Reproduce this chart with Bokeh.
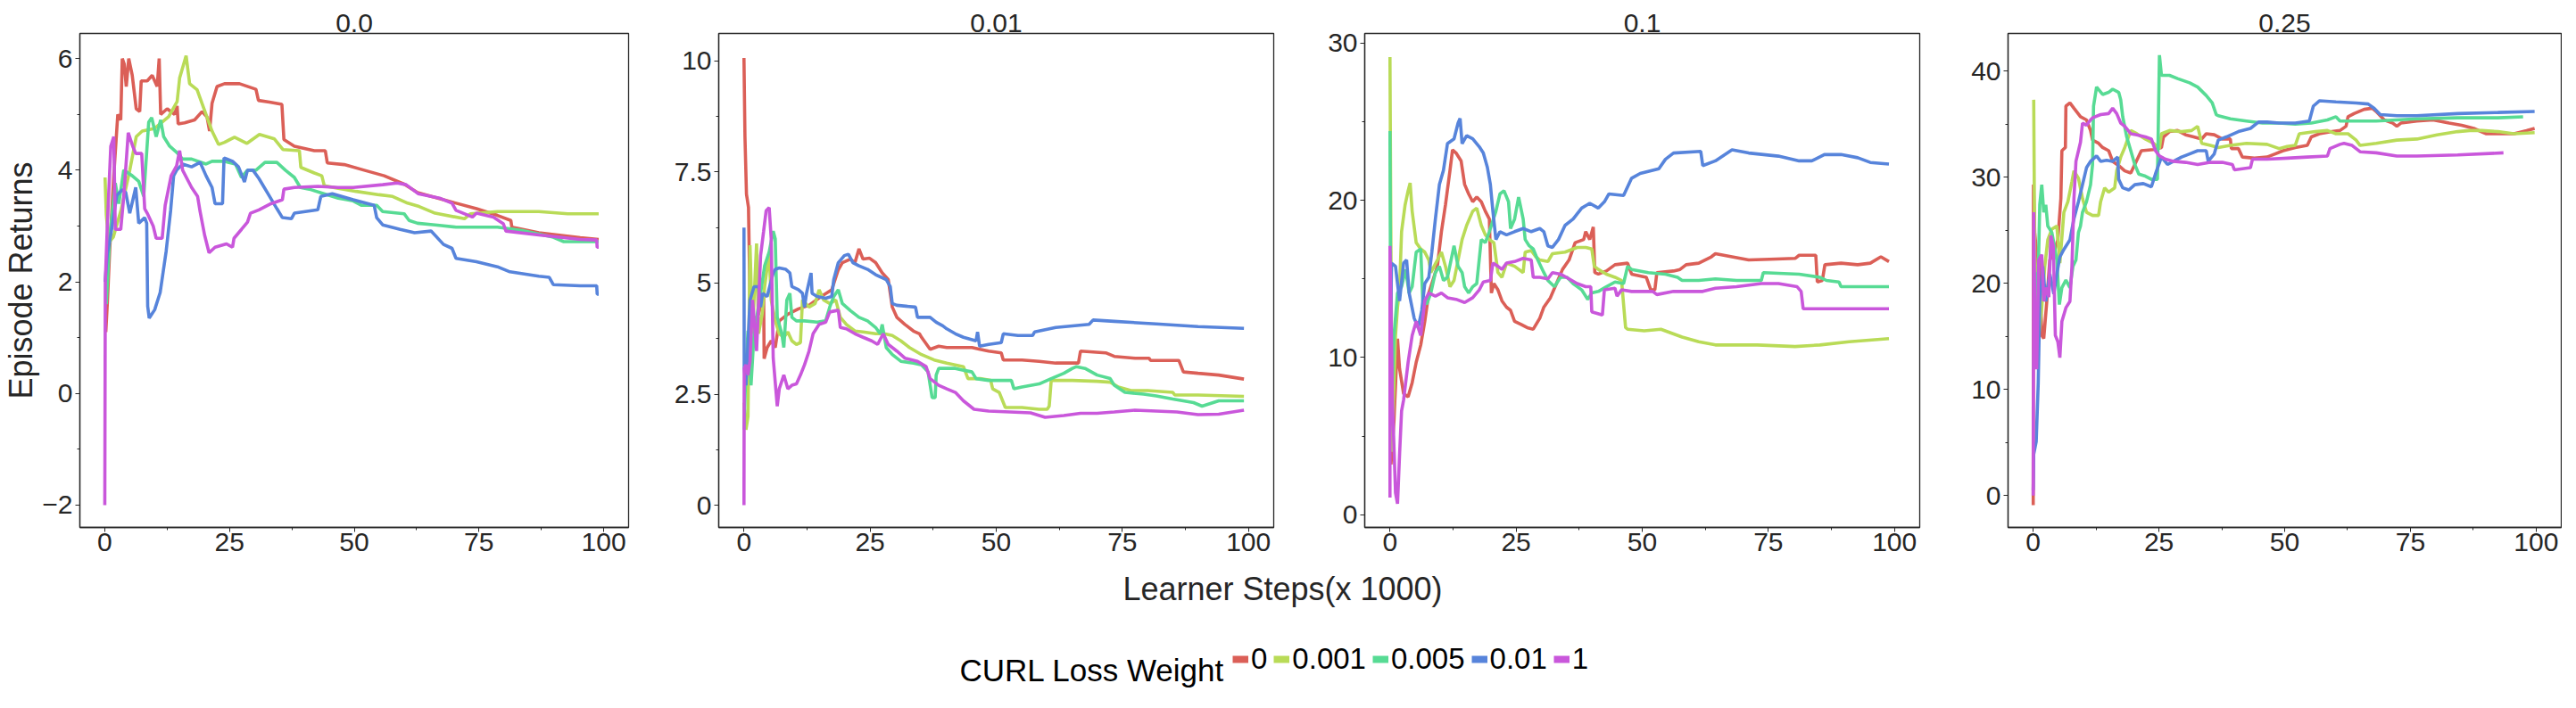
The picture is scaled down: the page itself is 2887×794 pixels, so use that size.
from bokeh.plotting import figure
from bokeh.layouts import row, column
from bokeh.models import Range1d, FixedTicker, Legend, LegendItem, Label
from bokeh.embed import file_html
from bokeh.resources import INLINE

# ---------------- data ----------------
PANEL_TITLES = ["0.0", "0.01", "0.1", "0.25"]
WEIGHT_LABELS = ["0", "0.001", "0.005", "0.01", "1"]
LEGEND_TITLE = "CURL Loss Weight"
X_LABEL = "Learner Steps(x 1000)"
Y_LABEL = "Episode Returns"

X_TICKS = [0, 25, 50, 75, 100]
X_MINOR = [12.5, 37.5, 62.5, 87.5]
Y_TICKS = [[-2, 0, 2, 4, 6], [0, 2.5, 5, 7.5, 10], [0, 10, 20, 30], [0, 10, 20, 30, 40]]
Y_TICK_LABELS = [["\u22122", "0", "2", "4", "6"], ["0", "2.5", "5", "7.5", "10"],
                 ["0", "10", "20", "30"], ["0", "10", "20", "30", "40"]]
Y_MINOR = [[-1, 1, 3, 5], [1.25, 3.75, 6.25, 8.75], [5, 15, 25], [5, 15, 25, 35]]
X_RANGE = (-5, 105)
Y_RANGES = [(-2.4, 6.45), (-0.5, 10.62), (-0.8, 30.6), (-3.0, 43.55)]

# panel "0.0"
P0_W0 = [(0.2,1.1),(0.5,1.6),(1.0,2.6),(1.8,3.9),(2.6,5.0),(3.2,4.9),(3.5,6.0),(3.9,5.9),(4.3,5.5),(4.8,6.0),(5.5,5.7),(6.3,5.1),(7.0,5.05),(7.3,5.6),(8.5,5.6),(9.5,5.7),(10.5,5.5),(10.9,6.0),(11.2,5.0),(12.5,5.1),(14.0,5.0),(14.5,5.15),(14.7,4.83),(16,4.85),(18,4.9),(19.5,5.05),(20.5,4.95),(21.0,4.7),(21.5,5.2),(22.5,5.5),(24,5.55),(27,5.55),(30.3,5.45),(30.8,5.25),(33,5.22),(35.5,5.18),(35.9,4.55),(38,4.43),(42,4.35),(44.2,4.35),(44.6,4.13),(48,4.1),(52,4.0),(56,3.9),(60,3.75),(62.7,3.6),(67.9,3.47),(74.5,3.31),(78.7,3.19),(81.4,3.1),(81.6,2.98),(87,2.88),(95.3,2.79),(99,2.76)]
P0_W001 = [(0.05,3.87),(0.3,3.2),(0.8,2.7),(1.7,2.8),(3.3,3.3),(5.0,4.0),(6.3,4.6),(7.5,4.7),(10,4.75),(12.8,4.96),(14.5,5.23),(15,5.65),(16.3,6.05),(17,5.55),(18.5,5.44),(20,5.07),(21.5,4.7),(22.8,4.46),(24,4.5),(26,4.59),(28.5,4.48),(31,4.64),(34,4.56),(35.7,4.37),(39,4.35),(39.3,4.05),(42,3.95),(43.5,3.9),(44,3.72),(50.4,3.62),(55,3.56),(57.7,3.53),(60.7,3.41),(63,3.35),(66.2,3.23),(72.1,3.13),(73.3,3.22),(78.7,3.26),(87,3.26),(92.8,3.22),(99,3.22)]
P0_W005 = [(0.3,1.6),(1.0,2.8),(2.1,3.77),(2.8,3.4),(3.8,4.0),(5.5,3.9),(6.8,3.8),(7.8,3.53),(8.8,4.86),(9.4,4.94),(10.3,4.6),(11.2,4.9),(11.8,4.6),(13,4.43),(14.4,4.32),(15.6,4.2),(17.4,4.2),(20.3,4.11),(21.5,4.16),(23.9,4.16),(26.2,4.11),(27.4,3.87),(28.6,4.0),(30.3,4.0),(32.1,4.14),(34.5,4.14),(36.2,4.0),(38,3.87),(39.2,3.69),(41,3.66),(43.9,3.58),(46.8,3.5),(49.8,3.45),(51.5,3.37),(54.5,3.37),(55.7,3.26),(60,3.22),(61,3.1),(62.7,3.05),(66.2,3.02),(70.4,2.98),(78.7,2.98),(83.7,2.92),(89.9,2.8),(92,2.72),(99,2.72)]
P0_W01 = [(0.05,2.0),(0.5,2.5),(1.3,2.9),(2.4,3.55),(3.5,3.65),(4.2,3.6),(5.0,3.23),(6.2,3.69),(6.8,3.05),(8.0,3.15),(8.4,3.05),(8.6,1.56),(8.9,1.35),(10.0,1.5),(11.1,1.81),(12.3,2.55),(13.2,3.28),(13.8,3.9),(14.4,4.0),(15.6,4.11),(17.4,4.06),(19.1,4.14),(20.3,3.9),(21.5,3.69),(22.1,3.4),(23.6,3.4),(23.9,4.22),(25.6,4.16),(26.8,4.06),(28,3.79),(28.6,4.0),(29.7,4.0),(30.9,3.85),(32.7,3.58),(34.5,3.31),(35.6,3.15),(37.4,3.13),(38,3.23),(42.7,3.29),(43.3,3.53),(45.6,3.58),(49.8,3.47),(54,3.37),(54.5,3.15),(55.7,3.02),(59.2,2.94),(62.1,2.88),(65.4,2.91),(67.9,2.67),(69.6,2.6),(70.4,2.42),(74.5,2.36),(78.7,2.27),(81.2,2.18),(87,2.1),(89.1,2.08),(89.9,1.95),(95.3,1.93),(98.6,1.93),(98.7,1.78),(99,1.78)]
P0_W1 = [(0.0,-2.0),(0.1,2.0),(0.5,3.0),(1.2,4.43),(1.8,4.6),(2.1,2.94),(3.2,2.94),(3.8,3.53),(4.7,4.67),(5.6,4.43),(6.2,4.3),(7.4,4.3),(8.0,3.31),(8.5,3.23),(9.7,3.0),(10.3,2.78),(11.5,2.78),(12.1,3.37),(13.3,3.9),(14.4,4.08),(15,4.35),(15.6,4.0),(17.4,3.69),(18.6,3.53),(19.1,3.26),(20,2.84),(20.9,2.52),(22.1,2.62),(24.4,2.68),(25.6,2.62),(25.9,2.78),(27.4,2.94),(28.6,3.07),(29.2,3.23),(30.9,3.29),(33.3,3.4),(35.6,3.47),(35.9,3.66),(38,3.69),(42.7,3.71),(46.8,3.69),(49.8,3.69),(55.7,3.74),(58.6,3.77),(60.4,3.74),(62.8,3.58),(67.1,3.5),(69.6,3.41),(70.4,3.28),(73.7,3.16),(74.5,3.23),(77.9,3.16),(79.9,3.04),(80.4,2.91),(87,2.84),(95.3,2.76),(98.6,2.75),(98.7,2.62),(99,2.62)]

# panel "0.01"
P1_W0 = [(0.0,10.07),(0.2,8.3),(0.5,7.0),(0.9,6.7),(1.3,3.85),(2.0,4.15),(2.9,4.3),(3.9,4.77),(4.0,3.3),(4.6,3.55),(5.4,3.7),(6.2,3.55),(7.0,4.15),(8.7,4.3),(10.8,4.42),(12.9,4.5),(15.3,4.7),(17.4,4.85),(18.7,5.3),(19.5,5.46),(21.1,5.54),(22.0,5.46),(22.8,5.77),(23.6,5.54),(24.9,5.56),(26.1,5.46),(27.4,5.23),(28.6,5.08),(29.4,4.46),(30.3,4.23),(31.9,4.07),(33.6,3.92),(34.8,3.86),(35.2,3.78),(36.9,3.51),(38.6,3.58),(40.2,3.55),(45.2,3.55),(46.8,3.51),(48.5,3.47),(51.0,3.43),(51.4,3.27),(55.1,3.27),(58.5,3.24),(61.8,3.2),(66.3,3.2),(66.7,3.47),(71.7,3.43),(73.4,3.35),(77.5,3.31),(80.3,3.31),(80.6,3.26),(86.2,3.26),(87.1,3.0),(90,2.97),(94.1,2.93),(99.1,2.84)]
P1_W001 = [(0.0,2.31),(0.4,1.7),(0.8,2.0),(1.2,5.85),(1.7,3.86),(2.5,5.89),(2.9,3.86),(3.6,4.3),(4.1,4.92),(5.0,5.7),(5.4,4.62),(6.2,4.15),(7.0,3.86),(7.9,3.78),(8.7,3.9),(9.5,3.7),(10.4,3.62),(11.2,3.66),(11.6,4.62),(12.9,4.46),(14.1,4.54),(14.9,4.85),(15.8,4.62),(17.0,4.54),(18.2,4.62),(19.1,4.23),(20.3,4.07),(22.0,3.92),(23.6,3.9),(26.1,3.86),(27.8,3.86),(29.4,3.82),(31.1,3.7),(32.8,3.55),(35.2,3.39),(37.7,3.27),(40.2,3.2),(43.5,3.12),(44.4,2.85),(46.8,2.85),(48.9,2.81),(49.3,2.62),(50.6,2.54),(51.8,2.2),(55.1,2.2),(58.5,2.16),(60.1,2.16),(60.5,2.23),(60.9,2.81),(65.1,2.81),(70.0,2.79),(72.6,2.77),(74.2,2.66),(76.7,2.58),(80.0,2.58),(85.0,2.54),(85.4,2.48),(90.0,2.48),(99.1,2.45)]
P1_W005 = [(0.0,1.7),(0.4,3.08),(0.8,3.93),(1.4,2.7),(2.0,3.86),(3.3,4.77),(4.1,5.39),(5.0,5.7),(5.8,6.17),(6.2,6.0),(6.6,4.23),(7.5,3.86),(7.9,3.55),(8.5,4.62),(9.1,4.77),(9.5,4.23),(10.4,4.15),(12.0,4.15),(14.5,4.12),(16.2,4.15),(17.0,4.46),(17.8,4.7),(18.7,4.85),(19.5,4.54),(21.1,4.38),(22.8,4.23),(24.5,4.15),(26.1,4.0),(27.0,3.86),(27.4,4.07),(28.2,3.55),(29.4,3.39),(31.1,3.24),(33.6,3.2),(35.2,3.16),(36.5,3.0),(37.3,2.42),(37.9,2.42),(38.1,2.93),(38.6,3.08),(41.9,3.08),(43.5,3.04),(45.2,3.0),(46.0,2.85),(48.5,2.81),(53.0,2.81),(53.5,2.62),(55.1,2.66),(58.5,2.73),(60.9,2.85),(63.4,2.97),(65.1,3.08),(65.9,3.12),(67.6,3.08),(70.0,2.93),(72.6,2.85),(73.4,2.7),(75.5,2.54),(79.2,2.5),(81.7,2.46),(85.0,2.39),(89.1,2.31),(90.8,2.23),(94.1,2.35),(99.1,2.35)]
P1_W01 = [(0.0,6.25),(0.05,3.08),(0.4,2.7),(1.2,4.62),(2.0,4.92),(2.9,4.92),(3.3,4.46),(3.7,4.77),(4.6,4.7),(5.8,5.23),(6.2,5.31),(7.0,5.34),(8.3,5.31),(9.1,5.23),(9.5,4.92),(10.8,4.85),(11.6,4.77),(12.0,4.46),(12.4,4.77),(13.3,5.23),(13.5,4.77),(14.5,4.7),(16.2,4.66),(17.4,4.7),(17.8,5.08),(18.7,5.46),(19.9,5.62),(20.7,5.65),(21.6,5.46),(22.8,5.39),(24.5,5.31),(26.1,5.19),(28.2,5.08),(29.0,4.92),(29.4,4.54),(30.3,4.5),(34.0,4.46),(34.4,4.23),(36.9,4.23),(38.1,4.12),(39.4,4.04),(40.2,3.97),(41.9,3.86),(43.5,3.78),(46.0,3.7),(46.3,3.9),(46.7,3.58),(48.5,3.62),(51.0,3.66),(51.4,3.86),(54.3,3.82),(57.2,3.82),(57.6,3.9),(61.8,4.0),(68.4,4.07),(69.2,4.17),(73.4,4.14),(81.7,4.08),(90.0,4.02),(99.1,3.98)]
P1_W1 = [(0.0,0.0),(0.05,3.08),(0.4,3.16),(0.8,2.93),(1.2,3.24),(1.7,4.62),(2.5,3.47),(3.3,5.62),(3.9,6.17),(4.4,6.63),(5.0,6.7),(5.4,6.0),(5.8,3.31),(6.6,2.23),(7.0,2.62),(7.9,2.93),(8.7,2.62),(9.5,2.7),(10.4,2.73),(11.2,2.93),(12.0,3.16),(12.9,3.47),(13.7,3.86),(14.9,4.07),(16.2,4.12),(17.0,4.35),(18.7,4.39),(19.1,4.0),(20.3,3.97),(22.0,3.86),(23.6,3.78),(25.3,3.7),(26.5,3.62),(27.6,3.86),(28.6,3.62),(30.3,3.47),(31.9,3.31),(34.4,3.24),(36.1,3.12),(36.9,2.85),(38.6,2.7),(40.2,2.62),(41.9,2.54),(43.5,2.35),(45.6,2.16),(48.5,2.12),(52.7,2.1),(56.8,2.08),(59.7,1.98),(63.4,2.02),(66.7,2.07),(70.0,2.07),(73.4,2.1),(77.5,2.14),(81.7,2.12),(85.8,2.1),(90.0,2.04),(94.1,2.05),(99.1,2.14)]

# panel "0.1"
P2_W0 = [(0.2,3.2),(0.8,6.0),(1.5,11.2),(1.9,9.3),(2.7,7.7),(3.6,7.5),(4.4,8.4),(5.2,9.7),(6.1,10.8),(6.9,12.3),(7.7,14.1),(8.5,14.9),(9.4,15.8),(10.2,18.0),(11.0,19.7),(11.9,21.9),(12.4,23.2),(13.1,23.0),(14.1,22.5),(14.8,21.0),(15.6,20.4),(16.4,19.9),(17.2,20.2),(18.1,19.9),(18.9,19.3),(19.7,18.8),(20.1,14.1),(20.6,14.7),(21.4,14.3),(22.2,13.6),(23.1,13.2),(23.9,13.0),(24.7,12.3),(26.0,12.1),(27.2,11.9),(28.4,11.8),(29.7,12.5),(30.5,13.2),(31.8,13.8),(33.0,14.7),(34.2,15.6),(35.5,16.2),(36.7,17.3),(38.4,17.5),(38.8,18.0),(39.6,17.5),(40.3,18.3),(40.6,15.4),(41.3,15.3),(42.9,15.5),(44.6,15.9),(47.1,16.0),(47.9,15.3),(50.8,15.1),(51.7,14.3),(52.5,14.3),(52.9,15.4),(56.2,15.5),(57.5,15.6),(58.7,15.9),(61.2,16.0),(63.7,16.4),(64.5,16.6),(67.8,16.4),(71.1,16.2),(75.3,16.25),(80.3,16.3),(81.1,16.5),(84.4,16.5),(84.7,14.8),(85.7,14.9),(86.2,15.9),(89.4,16.0),(92.7,15.9),(95.2,16.0),(97.3,16.4),(98.9,16.1)]
P2_W001 = [(0.0,29.1),(0.4,4.0),(1.1,11.4),(1.5,13.2),(1.9,14.3),(2.3,18.0),(3.0,19.7),(3.6,20.6),(4.0,21.1),(4.4,19.3),(5.2,17.3),(6.1,16.9),(6.9,16.7),(7.7,16.2),(8.1,15.4),(9.4,16.2),(10.2,16.7),(11.0,15.8),(11.9,14.5),(12.7,14.9),(13.5,16.2),(14.3,17.5),(15.2,18.4),(16.4,19.3),(17.2,19.5),(18.1,18.4),(18.9,17.8),(19.7,17.5),(20.6,17.3),(21.4,15.4),(22.2,15.1),(23.1,16.0),(24.7,15.8),(26.4,15.4),(26.8,16.7),(28.0,16.8),(28.9,16.4),(29.7,16.2),(31.3,16.1),(32.2,16.6),(34.7,16.7),(37.1,17.0),(38.8,17.0),(40.0,16.9),(40.5,15.8),(41.3,15.6),(42.9,15.3),(44.6,15.1),(45.9,14.9),(46.7,11.9),(47.1,11.8),(50.4,11.7),(53.7,11.8),(57.9,11.3),(61.2,11.0),(64.5,10.8),(72.8,10.8),(80.3,10.7),(85.2,10.8),(91.0,11.0),(98.9,11.2)]
P2_W005 = [(0.0,24.4),(0.2,5.8),(0.8,11.4),(1.5,14.1),(2.3,14.5),(3.1,15.6),(3.8,14.1),(4.4,14.5),(5.2,16.7),(6.1,16.9),(6.5,13.6),(7.3,13.4),(8.1,14.1),(9.0,15.4),(9.8,15.8),(10.6,14.9),(11.4,15.1),(12.7,17.1),(13.5,15.8),(14.3,15.4),(14.8,14.5),(15.6,14.1),(16.4,14.5),(17.2,14.7),(18.1,17.5),(18.9,17.3),(19.7,18.0),(21.0,19.3),(21.8,20.4),(22.6,20.6),(23.5,19.9),(23.9,18.2),(24.7,18.8),(25.5,20.2),(26.4,18.8),(26.8,17.5),(27.6,17.1),(28.4,16.9),(29.3,16.2),(30.5,15.4),(31.3,14.9),(32.6,14.5),(33.8,15.1),(35.1,15.1),(36.3,14.7),(38.0,14.3),(39.2,13.7),(40.0,14.1),(41.3,14.2),(42.9,14.5),(44.6,14.8),(46.3,14.7),(47.1,15.8),(47.9,15.6),(51.2,15.4),(54.6,15.3),(57.0,15.1),(57.9,14.9),(61.2,14.9),(64.5,15.0),(68.7,14.9),(73.6,14.9),(74.0,15.4),(81.1,15.3),(85.2,15.1),(86.5,14.9),(89.0,14.8),(89.4,14.5),(93.5,14.5),(98.9,14.5)]
P2_W01 = [(0.0,7.1),(0.3,16.0),(1.1,15.8),(1.9,13.6),(2.7,16.0),(3.3,16.2),(3.8,14.1),(4.8,12.5),(5.6,11.9),(6.3,13.0),(6.9,14.7),(7.7,15.1),(8.3,16.7),(9.0,18.8),(9.8,21.0),(10.6,21.9),(11.4,23.6),(12.7,23.9),(13.5,24.9),(13.9,25.2),(14.3,23.6),(15.2,24.1),(16.4,23.9),(17.7,23.4),(18.5,23.0),(19.3,22.1),(19.9,21.0),(20.4,19.3),(21.0,17.5),(21.8,18.0),(23.1,17.8),(24.7,18.0),(26.4,18.2),(28.0,18.0),(29.7,18.2),(30.5,18.0),(31.3,17.1),(32.2,17.0),(33.4,17.5),(34.7,18.4),(36.3,18.8),(38.0,19.5),(39.6,19.8),(41.3,19.5),(42.5,19.9),(43.4,20.4),(46.3,20.3),(47.9,21.4),(49.6,21.7),(53.3,22.0),(54.6,22.6),(56.2,23.0),(61.6,23.1),(62.0,22.2),(64.5,22.5),(67.8,23.2),(71.1,23.0),(77.0,22.8),(81.1,22.5),(83.6,22.5),(86.1,22.9),(89.4,22.9),(92.7,22.7),(95.2,22.4),(98.9,22.3)]
P2_W1 = [(0.0,1.1),(0.0,17.1),(0.5,7.1),(1.1,1.4),(1.5,0.7),(1.9,3.8),(2.3,6.6),(2.7,7.3),(3.6,9.7),(4.4,11.4),(5.2,12.3),(6.1,11.4),(6.9,13.6),(7.7,14.1),(9.0,13.9),(10.2,14.1),(11.4,13.8),(13.1,13.7),(14.8,13.5),(16.4,13.8),(17.7,14.3),(18.5,14.8),(19.9,14.9),(20.4,16.0),(21.4,15.8),(22.2,15.6),(23.1,16.0),(24.7,16.1),(26.4,16.3),(28.0,16.2),(28.4,15.1),(29.7,15.1),(31.3,15.0),(32.2,15.4),(33.8,15.3),(35.5,15.0),(37.1,14.7),(38.8,14.5),(39.8,14.5),(40.0,12.9),(42.1,12.7),(42.5,14.3),(44.6,14.4),(45.0,13.9),(45.9,14.3),(47.9,14.2),(52.1,14.2),(52.9,14.0),(56.2,14.2),(62.0,14.2),(64.5,14.4),(68.7,14.5),(73.6,14.7),(77.0,14.7),(80.7,14.5),(81.5,14.2),(81.9,13.1),(89.4,13.1),(98.9,13.1)]

# panel "0.25"
P3_W0 = [(0.0,-0.9),(0.05,29.3),(0.3,24.8),(0.6,23.2),(0.9,18.3),(1.3,22.2),(1.7,15.1),(2.1,14.8),(2.7,18.3),(3.3,22.2),(4.1,22.9),(4.9,24.1),(5.5,28.0),(5.7,32.5),(6.4,32.8),(6.5,36.7),(7.3,37.0),(8.1,36.5),(9.4,35.7),(10.6,35.4),(11.4,34.4),(11.8,33.5),(13.0,33.2),(13.8,32.8),(15.0,32.5),(15.8,31.5),(17.0,31.1),(18.2,30.6),(19.4,30.4),(20.2,31.2),(21.5,32.5),(23.9,32.6),(25.5,32.8),(25.9,33.8),(27.1,34.3),(28.7,34.4),(30.3,34.0),(31.9,33.8),(33.5,33.6),(34.4,34.1),(36.0,34.0),(37.6,33.6),(39.2,33.6),(39.4,32.7),(40.8,32.7),(41.6,31.9),(44.0,31.8),(46.5,31.9),(48.1,32.2),(49.7,32.5),(52.1,32.8),(54.5,33.0),(55.3,33.8),(56.9,34.1),(59.4,34.3),(61.0,34.4),(62.2,34.8),(62.6,35.7),(63.8,36.0),(65.8,36.4),(67.4,36.5),(68.2,36.2),(69.8,35.4),(71.5,35.1),(72.3,34.8),(73.1,35.1),(76.3,35.3),(79.5,35.4),(82.7,35.1),(85.2,34.9),(87.6,34.6),(90.0,34.1),(92.4,34.1),(95.6,34.1),(98.1,34.4),(99.7,34.6)]
P3_W001 = [(0.1,37.3),(0.3,22.5),(0.6,20.9),(1.1,15.1),(1.7,17.7),(2.3,21.6),(2.9,24.1),(3.7,25.1),(4.7,25.4),(5.3,21.9),(6.1,26.7),(6.9,27.7),(7.7,29.6),(8.1,30.6),(9.0,29.9),(9.8,28.0),(10.6,26.7),(11.8,26.4),(13.0,26.4),(13.4,27.7),(14.2,29.0),(15.0,28.6),(16.2,29.0),(16.6,30.6),(17.4,31.9),(18.2,32.8),(19.4,34.4),(20.6,34.1),(22.3,33.6),(23.9,33.2),(25.1,32.7),(25.5,34.1),(27.1,34.4),(29.5,34.3),(31.5,34.4),(32.7,34.8),(33.5,33.2),(35.2,33.0),(36.8,32.8),(39.2,33.0),(42.4,33.2),(46.5,33.1),(48.9,32.7),(50.5,32.9),(52.1,33.0),(52.9,34.1),(56.1,34.3),(58.5,34.4),(60.2,34.1),(62.6,34.1),(64.2,33.5),(65.0,33.0),(68.2,33.2),(72.3,33.5),(76.3,33.6),(80.3,34.0),(84.4,34.3),(86.8,34.4),(89.2,34.4),(92.4,34.3),(95.6,34.1),(99.7,34.2)]
P3_W005 = [(0.1,11.9),(0.5,20.9),(1.0,20.9),(1.3,27.4),(1.7,29.3),(2.1,26.7),(2.5,27.4),(2.9,25.4),(3.7,24.8),(4.1,23.8),(4.7,22.2),(5.2,18.0),(5.7,19.6),(6.5,20.3),(7.3,19.6),(7.9,21.6),(8.5,22.2),(9.0,24.8),(9.4,25.4),(9.8,26.7),(10.6,27.7),(11.4,29.3),(11.8,31.2),(12.0,36.7),(12.6,38.5),(13.8,37.8),(15.0,38.0),(15.8,38.3),(17.0,38.0),(17.4,37.3),(17.8,35.7),(18.6,33.8),(19.4,32.5),(20.2,31.2),(21.0,30.3),(22.3,30.1),(23.5,29.8),(24.7,29.8),(25.1,41.5),(25.5,39.6),(27.1,39.6),(28.7,39.3),(31.1,38.9),(32.7,38.5),(34.4,37.7),(35.6,37.0),(36.4,35.9),(36.8,35.8),(39.2,35.5),(42.4,35.3),(45.6,35.1),(48.9,35.1),(52.1,35.0),(55.3,35.1),(58.5,35.4),(60.2,35.7),(61.0,35.3),(68.2,35.3),(76.3,35.5),(84.4,35.6),(92.4,35.6),(97.4,35.7)]
P3_W01 = [(0.0,0.5),(0.1,3.9),(0.6,5.1),(1.0,10.6),(1.3,18.3),(1.9,21.6),(2.5,18.3),(3.3,20.9),(4.1,19.0),(4.7,20.9),(5.3,22.5),(6.1,23.2),(7.3,24.1),(8.1,26.1),(9.0,27.7),(9.8,29.3),(10.6,30.9),(11.4,31.5),(12.6,32.0),(13.4,31.5),(14.6,31.6),(15.8,31.5),(16.8,31.9),(17.0,29.8),(17.8,29.0),(19.0,28.8),(20.2,29.3),(21.9,29.4),(23.5,29.1),(24.3,30.3),(25.5,31.9),(26.7,31.2),(27.9,31.5),(29.5,31.9),(31.1,32.2),(32.7,32.5),(34.4,32.5),(34.8,31.5),(36.0,32.2),(36.8,33.5),(38.4,33.8),(40.8,34.3),(43.2,34.6),(44.8,35.2),(46.5,35.2),(48.9,35.1),(52.1,35.1),(54.9,35.3),(55.7,36.7),(56.9,37.2),(60.2,37.1),(64.2,37.0),(66.6,36.9),(67.8,36.5),(69.0,35.9),(72.3,35.8),(76.3,35.8),(84.4,36.0),(92.4,36.1),(99.7,36.2)]
P3_W1 = [(0.0,0.0),(0.1,26.7),(0.3,18.3),(0.7,11.9),(1.1,22.2),(1.7,22.7),(2.1,18.3),(2.5,19.6),(3.1,18.7),(3.5,24.5),(4.0,23.5),(4.4,15.1),(4.9,14.5),(5.3,13.0),(5.7,16.4),(6.5,17.7),(7.3,18.3),(7.7,21.6),(8.1,28.0),(8.5,31.5),(9.4,33.3),(9.8,35.1),(10.6,34.9),(11.4,35.4),(11.8,35.6),(13.4,35.9),(15.0,36.0),(15.8,36.5),(16.6,36.0),(17.4,35.1),(18.2,34.8),(19.4,34.1),(20.6,34.0),(22.3,33.8),(23.5,33.6),(24.3,32.5),(25.1,32.0),(26.3,31.7),(27.9,31.5),(30.3,31.4),(32.7,31.2),(35.2,31.4),(37.6,31.4),(39.6,31.2),(40.0,30.7),(43.2,30.9),(43.6,31.7),(46.5,31.7),(50.5,31.8),(54.5,31.9),(58.5,32.0),(59.0,32.7),(61.0,33.1),(61.8,33.2),(63.4,33.0),(65.0,32.4),(68.2,32.3),(72.3,32.0),(76.3,32.0),(84.4,32.1),(93.5,32.3)]

SERIES = [
    [P0_W0, P0_W001, P0_W005, P0_W01, P0_W1],
    [P1_W0, P1_W001, P1_W005, P1_W01, P1_W1],
    [P2_W0, P2_W001, P2_W005, P2_W01, P2_W1],
    [P3_W0, P3_W001, P3_W005, P3_W01, P3_W1],
]

# ---------------- styling ----------------
COLORS = ["#db5f57", "#b9db57", "#57db94", "#5784db", "#c957db"]
FONT = "Liberation Sans"
INK = "#262626"
ROW_H = 632
TOP, BOTTOM = 37, 41
# (left border, frame width, right border) for each panel
GEOM = [(82, 622, 20), (81, 622, 21), (81, 622, 21), (78, 620, 1)]


def make_panel(i):
    left, fw, right = GEOM[i]
    p = figure(width=left + fw + right, height=ROW_H,
               x_range=Range1d(*X_RANGE), y_range=Range1d(*Y_RANGES[i]),
               output_backend="svg", toolbar_location=None,
               min_border_left=left, min_border_right=right,
               min_border_top=TOP, min_border_bottom=BOTTOM,
               title=PANEL_TITLES[i])
    p.title.align = "center"
    p.title.text_font = FONT
    p.title.text_font_size = "30px"
    p.title.text_font_style = "normal"
    p.title.text_color = INK
    p.title.standoff = 3
    p.grid.visible = False
    p.background_fill_color = "white"
    p.border_fill_color = "white"
    p.outline_line_color = INK
    p.outline_line_width = 1.3
    p.outline_line_alpha = 1.0
    for ax in (p.xaxis[0], p.yaxis[0]):
        ax.axis_line_color = INK
        ax.axis_line_width = 1.3
        ax.major_tick_line_color = INK
        ax.minor_tick_line_color = INK
        ax.major_tick_line_width = 1
        ax.minor_tick_line_width = 1
        ax.major_tick_out = 5
        ax.major_tick_in = 0
        ax.minor_tick_out = 3
        ax.minor_tick_in = 0
        ax.major_label_text_font = FONT
        ax.major_label_text_font_size = "30px"
        ax.major_label_text_color = INK
    p.xaxis.major_label_standoff = 1
    p.yaxis.major_label_standoff = 3
    p.xaxis.ticker = FixedTicker(ticks=X_TICKS, minor_ticks=X_MINOR)
    p.yaxis.ticker = FixedTicker(ticks=Y_TICKS[i], minor_ticks=Y_MINOR[i])
    p.xaxis.major_label_overrides = {t: str(t) for t in X_TICKS}
    p.yaxis.major_label_overrides = dict(zip(Y_TICKS[i], Y_TICK_LABELS[i]))
    if i == 0:
        p.yaxis.axis_label = Y_LABEL
        p.yaxis.axis_label_text_font = FONT
        p.yaxis.axis_label_text_font_size = "36px"
        p.yaxis.axis_label_text_font_style = "normal"
        p.yaxis.axis_label_text_color = INK
        p.yaxis.axis_label_standoff = 0
    for pts, c in zip(SERIES[i], COLORS):
        xs = [q[0] for q in pts]
        ys = [q[1] for q in pts]
        p.line(xs, ys, line_color=c, line_width=3.6)
    return p


panels = [make_panel(i) for i in range(4)]

# ---------------- bottom strip: shared x label + legend ----------------
BW, BH = 2871, 145
bottom = figure(width=BW, height=BH, x_range=Range1d(0, BW), y_range=Range1d(0, BH),
                output_backend="svg", toolbar_location=None,
                x_axis_location=None, y_axis_location=None, min_border=0)
bottom.grid.visible = False
bottom.outline_line_color = None
bottom.background_fill_color = "white"
bottom.border_fill_color = "white"

bottom.add_layout(Label(x=1437, y=117, text=X_LABEL, text_align="center",
                        text_baseline="alphabetic", text_font=FONT,
                        text_font_size="36px", text_color=INK))
bottom.add_layout(Label(x=1372, y=26, text=LEGEND_TITLE, text_align="right",
                        text_baseline="alphabetic", text_font=FONT,
                        text_font_size="35px", text_color="black"))

NAN = float("nan")
items = []
for lab, c in zip(WEIGHT_LABELS, COLORS):
    # a one-point NaN line: nothing is drawn in the strip, only the legend swatch
    r = bottom.line(x=[NAN], y=[NAN], line_color=c, line_width=8)
    items.append(LegendItem(label=lab, renderers=[r]))
leg = Legend(items=items, orientation="horizontal", location=(1381, 19),
             glyph_width=18, glyph_height=14, label_standoff=3, spacing=7,
             padding=0, margin=0, border_line_color=None, background_fill_alpha=0,
             label_text_font=FONT, label_text_font_size="33px",
             label_text_color="black", label_width=10)
bottom.add_layout(leg)

layout = column(row(*panels, spacing=0), bottom, spacing=0)
open("out.html", "w").write(file_html(layout, INLINE))
